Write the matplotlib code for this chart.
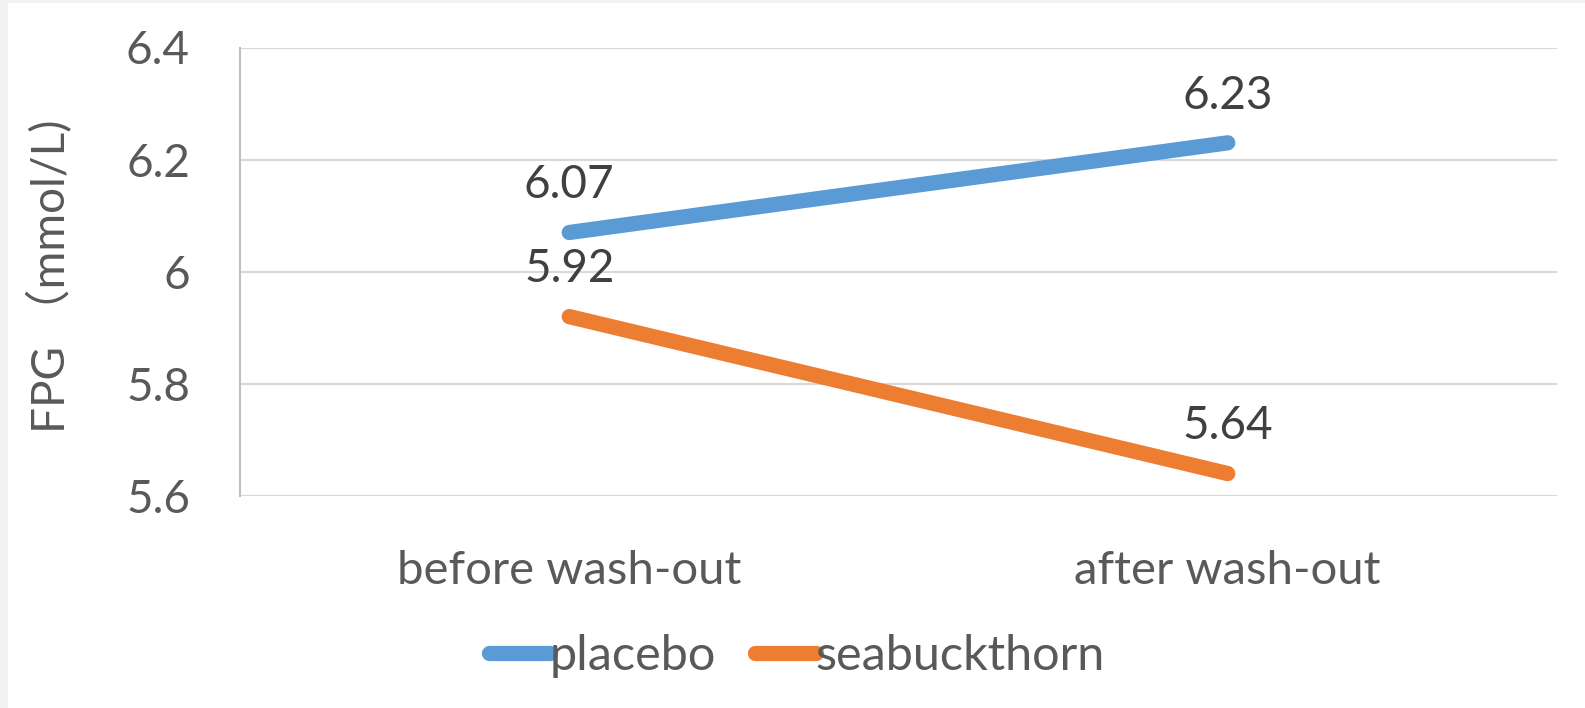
import matplotlib
matplotlib.use("Agg")
import matplotlib.pyplot as plt
from matplotlib.patches import Rectangle

categories = ["before wash-out", "after wash-out"]
placebo = [6.07, 6.23]
seabuckthorn = [5.92, 5.64]
yticks = [5.6, 5.8, 6.0, 6.2, 6.4]
ytick_labels = ["5.6", "5.8", "6", "6.2", "6.4"]

plt.rcParams['font.family'] = ['Lato', 'Noto Sans CJK SC', 'DejaVu Sans']

fig = plt.figure(figsize=(15.85, 7.08), dpi=100)
fig.patch.set_facecolor('#f2f2f2')
bg = Rectangle((8/1585, 0), 1, 1 - 3/708, transform=fig.transFigure,
               facecolor='white', edgecolor='none', zorder=-10)
fig.patches.append(bg)

ax = fig.add_axes([240/1585, 1 - 496/708, (1557-240)/1585, (496-47.5)/708])
ax.set_zorder(1)
ax.set_facecolor('none')
x = [0, 1]
blue = '#5B9BD5'
orange = '#ED7D31'
ax.plot(x, placebo, color=blue, lw=11, solid_capstyle='round', label='placebo', zorder=3)
ax.plot(x, seabuckthorn, color=orange, lw=11, solid_capstyle='round', label='seabuckthorn', zorder=3)

for xi, v in zip(x, placebo):
    ax.annotate(f"{v:.2f}", (xi, v), xytext=(0, 34), textcoords='offset points',
                ha='center', va='center', fontsize=33, color='#404040')
for xi, v in zip(x, seabuckthorn):
    ax.annotate(f"{v:.2f}", (xi, v), xytext=(0, 34), textcoords='offset points',
                ha='center', va='center', fontsize=33, color='#404040')

ax.set_xlim(-0.5, 1.5)
ax.set_ylim(5.6, 6.4)
ax.set_yticks(yticks)
ax.set_yticklabels(ytick_labels)
ax.set_xticks(x)
ax.set_xticklabels(categories)
ax.yaxis.grid(True, color='#d9d9d9', lw=1.5)
ax.set_axisbelow(True)
for s in ['top', 'right', 'bottom']:
    ax.spines[s].set_visible(False)
ax.spines['left'].set_color('#bfbfbf')
ax.spines['left'].set_linewidth(1.5)
ax.tick_params(axis='y', length=0, pad=36, labelsize=33, labelcolor='#595959')
ax.tick_params(axis='x', length=0, pad=39, labelsize=34, labelcolor='#595959')
ax.set_ylabel("FPG （mmol/L)", fontsize=33, color='#595959')
ax.yaxis.set_label_coords(-0.127, 0.49)

leg = ax.legend(loc='center', bbox_to_anchor=(0.423, -0.356), ncol=2, frameon=False,
                fontsize=35, handlelength=1.25, handletextpad=0.0, columnspacing=0.8)
for t in leg.get_texts():
    t.set_color('#595959')

fig.savefig("out.png", dpi=100, facecolor=fig.get_facecolor())
